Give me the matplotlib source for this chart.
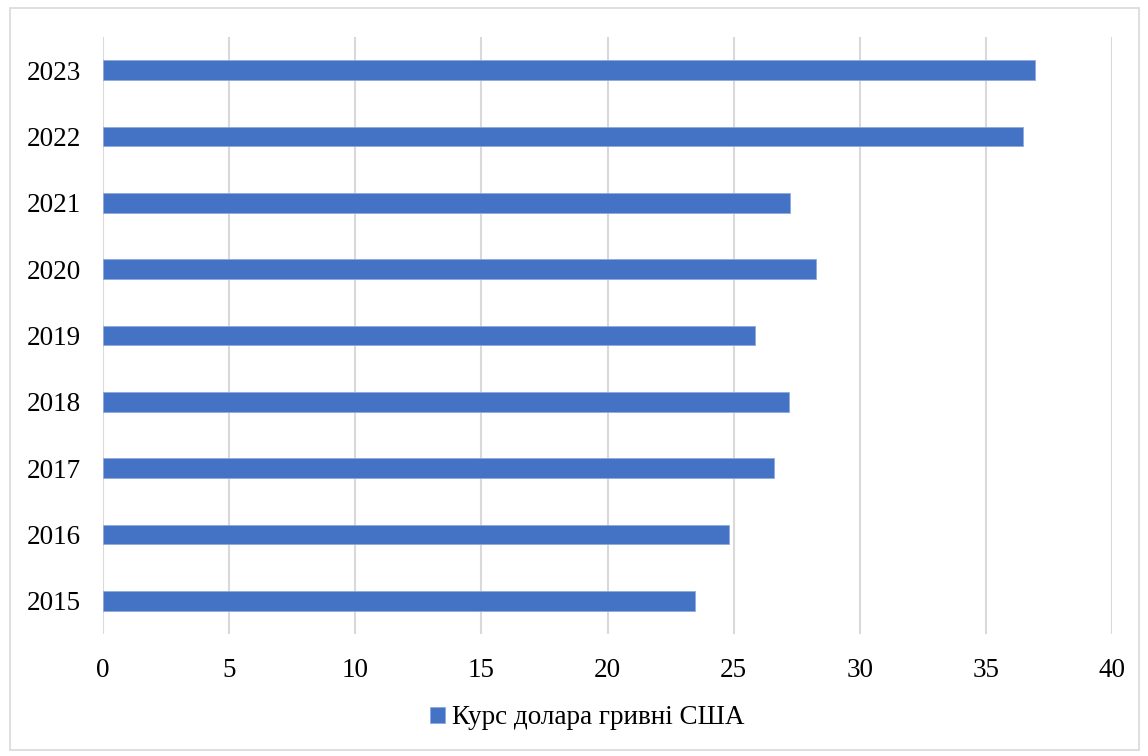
import matplotlib
matplotlib.use("Agg")
import matplotlib.pyplot as plt
from matplotlib.patches import Rectangle

# data
years = ['2015', '2016', '2017', '2018', '2019', '2020', '2021', '2022', '2023']
rate = [23.48, 24.81, 26.59, 27.21, 25.86, 28.28, 27.25, 36.49, 36.93]
series_name = 'Курс долара гривні США'

plt.rcParams['font.family'] = ['Liberation Serif', 'DejaVu Serif']

W, H = 1148, 756
fig = plt.figure(figsize=(W / 100, H / 100), dpi=100)
ax = fig.add_axes([103 / W, 1 - 634 / H, (1112 - 103) / W, (634 - 37) / H])

bars = ax.barh(range(len(years)), rate, height=0.3, color='#4472c4',
               edgecolor='#8faadc', linewidth=0.6, label=series_name, zorder=3)

ax.set_xlim(0, 40)
ax.set_ylim(-0.5, len(years) - 0.5)
ax.set_xticks(range(0, 41, 5))
ax.set_yticks(range(len(years)))
ax.set_yticklabels(years)
ax.grid(axis='x', color='#d9d9d9', linewidth=1.5, zorder=0)
ax.tick_params(length=0, labelsize=19.5, colors='black')
ax.tick_params(axis='x', pad=17)
ax.tick_params(axis='y', pad=16)

for spine in ax.spines.values():
    spine.set_visible(False)

# legend
fig.legend(handles=[bars], labels=[series_name], loc='center',
           bbox_to_anchor=(587 / W, 1 - 718 / H), frameon=False, fontsize=19.5,
           handlelength=0.55, handleheight=0.55, handletextpad=0.25)

# outer chart border
fig.patches.append(Rectangle((10 / W, 6 / H), 1 - 19 / W, 1 - 14 / H,
                             transform=fig.transFigure, fill=False,
                             edgecolor='#d9d9d9', linewidth=1.2))

fig.savefig('out.png', dpi=100)
